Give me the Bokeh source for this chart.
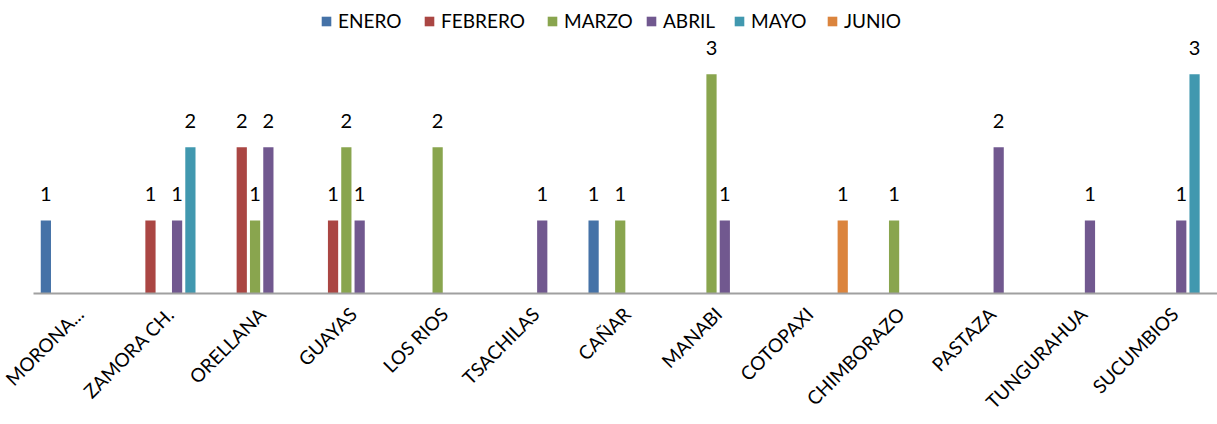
import math
from bokeh.plotting import figure
from bokeh.models import (ColumnDataSource, Range1d, FixedTicker, Legend, LegendItem, LabelSet)
from bokeh.core.properties import value
from bokeh.transform import dodge
from bokeh.embed import file_html
from bokeh.resources import INLINE

categories = ["MORONA...", "ZAMORA CH.", "ORELLANA", "GUAYAS", "LOS RIOS", "TSACHILAS",
              "CAÑAR", "MANABI", "COTOPAXI", "CHIMBORAZO", "PASTAZA", "TUNGURAHUA", "SUCUMBIOS"]
series_names = ["ENERO", "FEBRERO", "MARZO", "ABRIL", "MAYO", "JUNIO"]
enero   = [1, 0, 0, 0, 0, 0, 1, 0, 0, 0, 0, 0, 0]
febrero = [0, 1, 2, 1, 0, 0, 0, 0, 0, 0, 0, 0, 0]
marzo   = [0, 0, 1, 2, 2, 0, 1, 3, 0, 1, 0, 0, 0]
abril   = [0, 1, 2, 1, 0, 1, 0, 1, 0, 0, 2, 1, 1]
mayo    = [0, 2, 0, 0, 0, 0, 0, 0, 0, 0, 0, 0, 3]
junio   = [0, 0, 0, 0, 0, 0, 0, 0, 1, 0, 0, 0, 0]
series_values = [enero, febrero, marzo, abril, mayo, junio]
colors = ["#4572A7", "#AA4643", "#89A54E", "#71588F", "#4198AF", "#DB843D"]

FONT = "Lato"
slot = 0.1458
bar_w = 0.112

# legend item left positions (screen px from frame left)
legend_x = [287, 390, 513, 612, 700, 793]

p = figure(width=1217, height=424, output_backend="svg", toolbar_location=None,
           x_range=Range1d(-0.5, 12.47), y_range=Range1d(0, 4.01),
           min_border_left=33, min_border_right=0, min_border_top=0, min_border_bottom=130)
p.outline_line_color = None
p.xgrid.visible = False
p.ygrid.visible = False
p.yaxis.visible = False

xs = list(range(len(categories)))
for j, (name, vals, col) in enumerate(zip(series_names, series_values, colors)):
    off = (j - 2.5) * slot
    src_all = ColumnDataSource(dict(x=xs, top=vals))
    r = p.vbar(x=dodge("x", off), top="top", width=bar_w, source=src_all,
               fill_color=col, line_color=None)
    nz = [i for i, v in enumerate(vals) if v > 0]
    src_lab = ColumnDataSource(dict(x=[xs[i] for i in nz], y=[vals[i] for i in nz],
                                    t=[str(vals[i]) for i in nz]))
    labels = LabelSet(x=dodge("x", off), y="y", text="t", source=src_lab,
                      text_align="center", text_baseline="alphabetic", y_offset=19,
                      text_font=value(FONT), text_font_size="20px", text_color="#000000")
    p.add_layout(labels)
    lg = Legend(items=[LegendItem(label=name, renderers=[r])], orientation="horizontal",
                location=(legend_x[j], 261),
                glyph_width=12, glyph_height=12, label_standoff=6, spacing=0,
                padding=0, margin=0, border_line_color=None, background_fill_alpha=0,
                label_text_font=FONT, label_text_font_size="19px", label_text_color="#000000")
    p.add_layout(lg)

ax = p.xaxis[0]
ax.ticker = FixedTicker(ticks=xs)
ax.major_label_overrides = {i: c for i, c in enumerate(categories)}
ax.major_label_orientation = math.pi / 4
ax.major_label_text_font = FONT
ax.major_label_text_font_size = "19px"
ax.major_label_text_color = "#000000"
ax.major_tick_line_color = None
ax.minor_tick_line_color = None
ax.axis_line_color = "#A0A0A0"
ax.axis_line_width = 2
ax.major_label_standoff = 11

open("out.html", "w").write(file_html(p, INLINE))
